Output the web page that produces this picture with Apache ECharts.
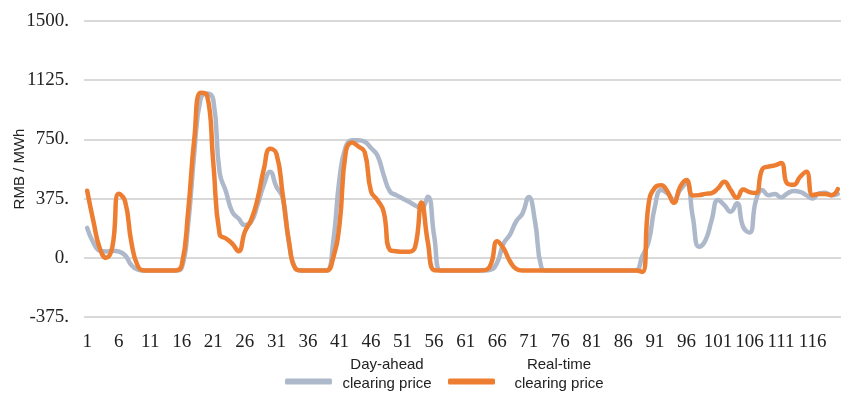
<!DOCTYPE html>
<html>
<head>
<meta charset="utf-8">
<script src="https://cdn.jsdelivr.net/npm/echarts@6/dist/echarts.min.js"></script>
<style>
html,body{margin:0;padding:0;background:#fff;}
#chart{width:865px;height:396px;}
</style>
</head>
<body>
<div id="chart"></div>
<script>
// Period index 1..120
var periods = Array.from({length: 120}, function (_, i) { return String(i + 1); });

var dayAheadName = 'Day-ahead clearing price';
var realTimeName = 'Real-time clearing price';

var dayAhead = [
  190, 95, 45, 40, 45, 40, 17, -46, -75, -80,
  -80, -80, -80, -80, -80, -62, 207, 672, 1010, 1041,
  1000, 540, 420, 291, 249, 207, 228, 334, 461, 545,
  450, 380, 90, -65, -80, -80, -80, -80, -80, 100,
  500, 705, 745, 745, 735, 695, 650, 525, 420, 397,
  376, 355, 332, 313, 387, 140, -80, -80, -80, -80,
  -80, -80, -80, -80, -75, -30, 90, 145, 230, 280,
  385, 230, -60, -80, -80, -80, -80, -80, -80, -80,
  -80, -80, -80, -80, -80, -80, -80, -80, 10, 100,
  324, 430, 408, 366, 430, 471, 260, 70, 110, 239,
  366, 334, 292, 345, 195, 160, 360, 430, 397, 404,
  383, 408, 423, 418, 397, 376, 408, 412, 397, 404
];

var realTime = [
  425, 230, 60, 0, 70, 405, 360, 100, -50, -80,
  -80, -80, -80, -80, -80, -45, 290, 760, 1045, 1030,
  600, 150, 122, 90, 42, 165, 240, 370, 560, 690,
  660, 400, 101, -68, -80, -80, -80, -80, -80, 0,
  210, 670, 730, 705, 670, 420, 366, 292, 49, 42,
  38, 38, 70, 350, 100, -78, -80, -80, -80, -80,
  -80, -80, -80, -78, -40, 105, 60, -20, -70, -80,
  -80, -80, -80, -80, -80, -80, -80, -80, -80, -80,
  -80, -80, -80, -80, -80, -80, -80, -80, -90, 340,
  445, 460, 420, 348, 450, 493, 395, 397, 405, 410,
  440, 481, 430, 380, 432, 416, 410, 560, 578, 585,
  600, 470, 462, 512, 545, 397, 404, 404, 397, 435
];

var yMin = -375, yMax = 1500, yStep = 375;

var chart = echarts.init(document.getElementById('chart'), null, {renderer: 'canvas'});
var serif = '"Liberation Serif", "Times New Roman", serif';
var sans = '"Liberation Sans", Arial, sans-serif';

chart.setOption({
  animation: false,
  backgroundColor: '#ffffff',
  grid: {left: 84, right: 24, top: 21, bottom: 79, containLabel: false, outerBoundsMode: 'none'},
  legend: {
    top: 357,
    left: 285,
    padding: 0,
    itemGap: 11,
    itemWidth: 47,
    itemHeight: 6,
    icon: 'roundRect',
    data: [dayAheadName, realTimeName],
    formatter: function (name) {
      var k = name === dayAheadName ? 'a' : 'b';
      var parts = name === dayAheadName ? ['Day-ahead', 'clearing price'] : ['Real-time', 'clearing price'];
      return '{' + k + '|' + parts[0] + '}\n{' + k + '|' + parts[1] + '}\n{s| }';
    },
    textStyle: {
      fontFamily: sans,
      fontSize: 15,
      color: '#222',
      rich: {
        a: {width: 100, align: 'center', lineHeight: 19, fontFamily: sans, fontSize: 15, color: '#222'},
        b: {width: 118, align: 'center', lineHeight: 19, fontFamily: sans, fontSize: 15, color: '#222'},
        s: {lineHeight: 15, fontSize: 2}
      }
    }
  },
  xAxis: {
    type: 'category',
    data: periods,
    boundaryGap: true,
    axisLine: {show: false, onZero: false},
    axisTick: {show: false},
    splitLine: {show: false},
    axisLabel: {
      interval: 4,
      margin: 16,
      fontFamily: serif,
      fontSize: 19,
      color: '#222'
    }
  },
  yAxis: {
    type: 'value',
    min: yMin,
    max: yMax,
    interval: yStep,
    name: 'RMB / MWh',
    nameLocation: 'middle',
    nameGap: 57,
    nameRotate: 90,
    nameMoveOverlap: false,
    nameTextStyle: {fontFamily: sans, fontSize: 15, color: '#222'},
    axisLine: {show: false},
    axisTick: {show: false},
    splitLine: {show: true, lineStyle: {color: '#d9d9d9', width: 2}},
    axisLabel: {
      margin: 15,
      fontFamily: serif,
      fontSize: 19,
      color: '#222',
      formatter: function (v) { return v + '.'; }
    }
  },
  series: [
    {
      name: dayAheadName,
      type: 'line',
      data: dayAhead,
      smooth: 0.5,
      showSymbol: false,
      symbol: 'none',
      color: '#ADB9CA',
      lineStyle: {color: '#ADB9CA', width: 4.5, cap: 'round', join: 'round'},
      itemStyle: {color: '#ADB9CA'}
    },
    {
      name: realTimeName,
      type: 'line',
      data: realTime,
      smooth: 0.5,
      showSymbol: false,
      symbol: 'none',
      color: '#ED7D31',
      lineStyle: {color: '#ED7D31', width: 4.5, cap: 'round', join: 'round'},
      itemStyle: {color: '#ED7D31'}
    }
  ]
});
</script>
</body>
</html>
